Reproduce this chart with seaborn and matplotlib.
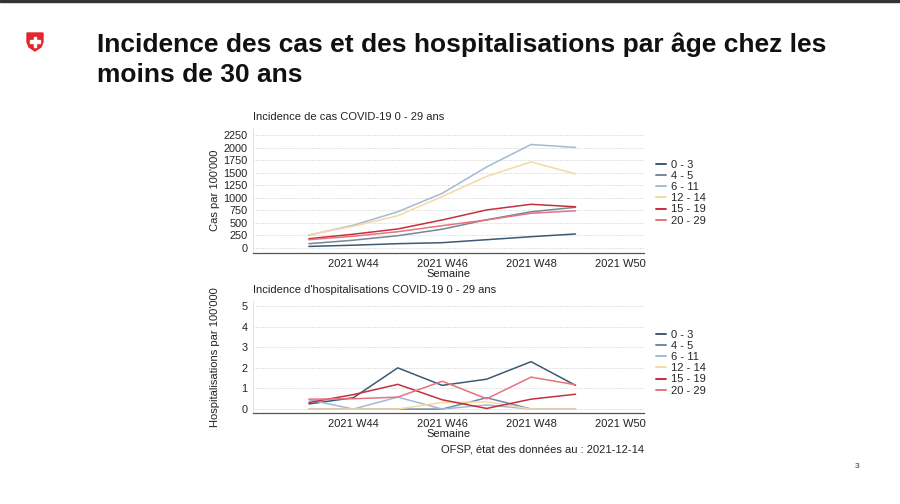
import pandas as pd
import matplotlib.pyplot as plt
import seaborn as sns
from matplotlib.patches import Polygon, Rectangle
from matplotlib.lines import Line2D

# Données
semaines = [43, 44, 45, 46, 47, 48, 49]
ages = ['0 - 3', '4 - 5', '6 - 11', '12 - 14', '15 - 19', '20 - 29']
couleurs = ['#3d5a73', '#75879a', '#a3bad6', '#f6d9a2', '#c4303c', '#e7737e']

cas_0_3 = [25, 50, 80, 100, 160, 220, 275]
cas_4_5 = [80, 150, 240, 370, 560, 720, 810]
cas_6_11 = [250, 450, 720, 1090, 1620, 2070, 2010]
cas_12_14 = [260, 430, 640, 1025, 1430, 1720, 1480]
cas_15_19 = [180, 270, 375, 556, 757, 870, 820]
cas_20_29 = [160, 230, 320, 442, 556, 690, 740]

hosp_0_3 = [0.25, 0.55, 2.0, 1.15, 1.45, 2.3, 1.15]
hosp_4_5 = [0, 0, 0, 0, 0.55, 0, 0]
hosp_6_11 = [0.45, 0, 0.58, 0, 0.2, 0, 0]
hosp_12_14 = [0, 0, 0, 0.32, 0.35, 0, 0]
hosp_15_19 = [0.32, 0.7, 1.2, 0.45, 0.03, 0.48, 0.72]
hosp_20_29 = [0.48, 0.5, 0.58, 1.35, 0.5, 1.55, 1.18]

xticks = [44, 46, 48, 50]
xticklabels = ['2021 W44', '2021 W46', '2021 W48', '2021 W50']

cas = [cas_0_3, cas_4_5, cas_6_11, cas_12_14, cas_15_19, cas_20_29]
hosp = [hosp_0_3, hosp_4_5, hosp_6_11, hosp_12_14, hosp_15_19, hosp_20_29]

rows = []
for age, c, h in zip(ages, cas, hosp):
    for s, vc, vh in zip(semaines, c, h):
        rows.append({'Semaine': s, 'Age': age, 'Cas': vc, 'Hosp': vh})
df = pd.DataFrame(rows)

sns.set_theme(style='white')
plt.rcParams['font.family'] = ['Liberation Sans', 'DejaVu Sans']
palette = dict(zip(ages, couleurs))

fig = plt.figure(figsize=(9, 5.04), dpi=100)
fig.patch.set_facecolor('white')


def style_axes(ax, yticks, ylim, ylabel, titre):
    ax.set_xlim(41.74, 50.53)
    ax.set_ylim(*ylim)
    ax.set_xticks(xticks)
    ax.set_xticklabels(xticklabels, fontsize=8, color='#222222')
    ax.set_yticks(yticks)
    ax.set_yticklabels([str(t) for t in yticks], fontsize=7.8, color='#222222')
    for t in yticks:
        ax.axhline(t, color='#cfcfcf', lw=0.7, ls=(0, (1, 1.5)), zorder=0)
    for sp in ['top', 'right']:
        ax.spines[sp].set_visible(False)
    ax.spines['bottom'].set_color('#555555')
    ax.spines['bottom'].set_linewidth(0.9)
    ax.spines['left'].set_color('#dddddd')
    ax.spines['left'].set_linewidth(0.6)
    ax.tick_params(axis='x', length=3, width=0.6, color='#555555', pad=1.5)
    ax.tick_params(axis='y', length=3, width=0.6, color='#555555', pad=1)
    ax.set_xlabel('Semaine', fontsize=8, labelpad=0, color='#222222')
    ax.set_ylabel(ylabel, fontsize=8, color='#222222')
    ax.yaxis.set_label_coords(-0.083, 0.5)
    ax.set_title(titre, loc='left', fontsize=8, pad=6, color='#222222')
    handles = [Line2D([0], [0], color=c, lw=1.4) for c in couleurs]
    ax.legend(handles, ages, loc='upper left', bbox_to_anchor=(1.02, 0.78),
              frameon=False, fontsize=8, handlelength=0.9, handletextpad=0.5,
              labelspacing=0.1, borderaxespad=0)


# Panneau des cas
ax1 = fig.add_axes([0.281, 0.498, 0.434, 0.248])
sns.lineplot(data=df, x='Semaine', y='Cas', hue='Age', hue_order=ages,
             palette=palette, lw=1.1, ax=ax1, legend=False)
style_axes(ax1, list(range(0, 2251, 250)), (-107, 2400), "Cas par 100'000",
           'Incidence de cas COVID-19 0 - 29 ans')

# Panneau des hospitalisations
ax2 = fig.add_axes([0.281, 0.181, 0.434, 0.222])
sns.lineplot(data=df, x='Semaine', y='Hosp', hue='Age', hue_order=ages,
             palette=palette, lw=1.1, ax=ax2, legend=False)
style_axes(ax2, [0, 1, 2, 3, 4, 5], (-0.18, 5.25), "Hospitalisations par 100'000",
           "Incidence d'hospitalisations COVID-19 0 - 29 ans")

# Titre principal
fig.text(97 / 900, 1 - 45 / 504, 'Incidence des cas et des hospitalisations par âge chez les',
         fontsize=19, fontweight='bold', va='center', ha='left', color='#111111')
fig.text(97 / 900, 1 - 75 / 504, 'moins de 30 ans',
         fontsize=19, fontweight='bold', va='center', ha='left', color='#111111')

# Source et numéro de page
fig.text(644 / 900, 1 - 449 / 504, 'OFSP, état des données au : 2021-12-14',
         fontsize=8, ha='right', va='center', color='#222222')
fig.text(857 / 900, 1 - 466 / 504, '3', fontsize=6, ha='center', va='center', color='#333333')

# Bordure supérieure
fig.patches.append(Rectangle((0, 1 - 2 / 504), 1, 2 / 504, transform=fig.transFigure,
                             color='#333333', zorder=10))

# Écusson suisse
axl = fig.add_axes([26 / 900, 1 - 52 / 504, 18 / 900, 20 / 504])
axl.set_xlim(0, 18)
axl.set_ylim(0, 20)
axl.axis('off')
axl.add_patch(Polygon([[1, 19], [17, 19], [17, 10], [15, 5], [9, 1], [3, 5], [1, 10]],
                      closed=True, color='#e3262c'))
axl.add_patch(Rectangle((7.7, 5.5), 2.6, 10, color='white'))
axl.add_patch(Rectangle((4, 9.2), 10, 2.6, color='white'))

fig.savefig('out.png', dpi=100)
